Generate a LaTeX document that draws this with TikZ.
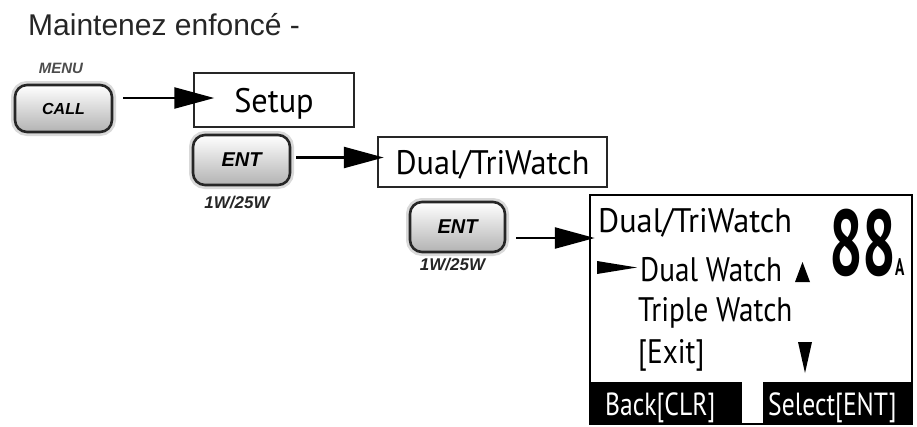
\documentclass[tikz,border=0pt]{standalone}
\usepackage{fontspec}
\setmainfont{Liberation Sans}
\newfontfamily\lcd[FakeStretch=0.95]{PT Sans}
\newfontfamily\lcdn[FakeStretch=0.86]{PT Sans}
\newfontfamily\lcdb[FakeStretch=0.8]{PT Sans}
\newfontfamily\segfont[FakeStretch=0.64]{PT Sans}
\usetikzlibrary{arrows.meta}
\begin{document}
\begin{tikzpicture}[x=1pt,y=-1pt,
  btn/.style={draw=black!85, line width=2.6pt, rounded corners=12pt,
    top color=white, bottom color=gray!60, inner sep=0pt,
    font=\bfseries\itshape\fontsize{20}{20}\selectfont,
    preaction={draw=gray!30, line width=8pt}},
  lbl/.style={font=\bfseries\itshape\fontsize{17}{17}\selectfont, text=black!85, inner sep=0pt},
  menubox/.style={draw=black!85, inner sep=0pt, text height=25pt, text depth=0pt,
    font=\lcd\fontsize{34}{34}\selectfont},
  scr/.style={font=\lcdn\fontsize{34}{34}\selectfont, inner sep=0pt, anchor=base west},
  arr/.style={-{Triangle[length=40pt,width=21pt]}, line width=2.5pt}
]
\useasboundingbox (0,0) rectangle (917,426);

\node[anchor=base west, inner sep=0pt, font=\fontsize{30}{30}\selectfont, text=black!85] (title) at (28,35) {Maintenez enfoncé -};

\node[lbl, font=\bfseries\itshape\fontsize{15}{15}\selectfont, text=black!70] (menu) at (61,68) {MENU};
\node[btn, minimum width=97pt, minimum height=47pt, font=\bfseries\itshape\fontsize{16}{16}\selectfont] (call) at (63.5,108.5) {CALL};
\node[menubox, line width=1.5pt, minimum width=160pt, minimum height=54pt] (setup) at (274,100) {Setup};

\node[btn, minimum width=97pt, minimum height=50pt] (ent1) at (241.5,160) {ENT};
\node[lbl] (p1) at (237,203) {1W/25W};
\node[menubox, line width=2.5pt, minimum width=229pt, minimum height=50pt] (dual) at (492.5,162) {Dual/TriWatch};

\node[btn, minimum width=95pt, minimum height=50pt] (ent2) at (457.5,227) {ENT};
\node[lbl] (p2) at (452.5,265) {1W/25W};

% screen
\fill (590,382) rectangle (742,424);
\fill (763,382) rectangle (912,424);
\node[draw, line width=2.5pt, minimum width=322pt, minimum height=229pt, inner sep=0pt] (screen) at (751,309.5) {};
\node[scr, font=\lcd\fontsize{34}{34}\selectfont] (s1) at (598,232) {Dual/TriWatch};
\node[scr] (s2) at (640,281) {Dual Watch};
\node[scr] (s3) at (638,321) {Triple Watch};
\node[scr] (s4) at (638,363) {[Exit]};
\node[scr, text=white, font=\lcdb\fontsize{32}{32}\selectfont] (s5) at (605,415) {Back[CLR]};
\node[scr, text=white, font=\lcdb\fontsize{32}{32}\selectfont] (s6) at (768,415) {Select[ENT]};
\node[anchor=base west, inner sep=0pt, font=\segfont\bfseries\fontsize{93}{93}\selectfont] (ch) at (829,275) {88};
\node[anchor=base west, inner sep=0pt, font=\segfont\bfseries\fontsize{24}{24}\selectfont] (chA) at (895,275) {A};
\fill (597,261) -- (637,267.5) -- (597,274) -- cycle;
\fill (795,282) -- (802.5,262) -- (810,282) -- cycle;
\fill (798,342) -- (812,342) -- (805,373) -- cycle;

% arrows
\draw[arr] ([xshift=10pt,yshift=10.5pt]call.east) -- ([xshift=21pt,yshift=2pt]setup.west);
\draw[arr] ([xshift=5pt,yshift=2.5pt]ent1.east) -- ([xshift=7pt,yshift=4.5pt]dual.west);
\draw[arr] ([xshift=10pt,yshift=-11pt]ent2.east) -- ([xshift=6pt,yshift=71.5pt]screen.west);
\end{tikzpicture}
\end{document}
